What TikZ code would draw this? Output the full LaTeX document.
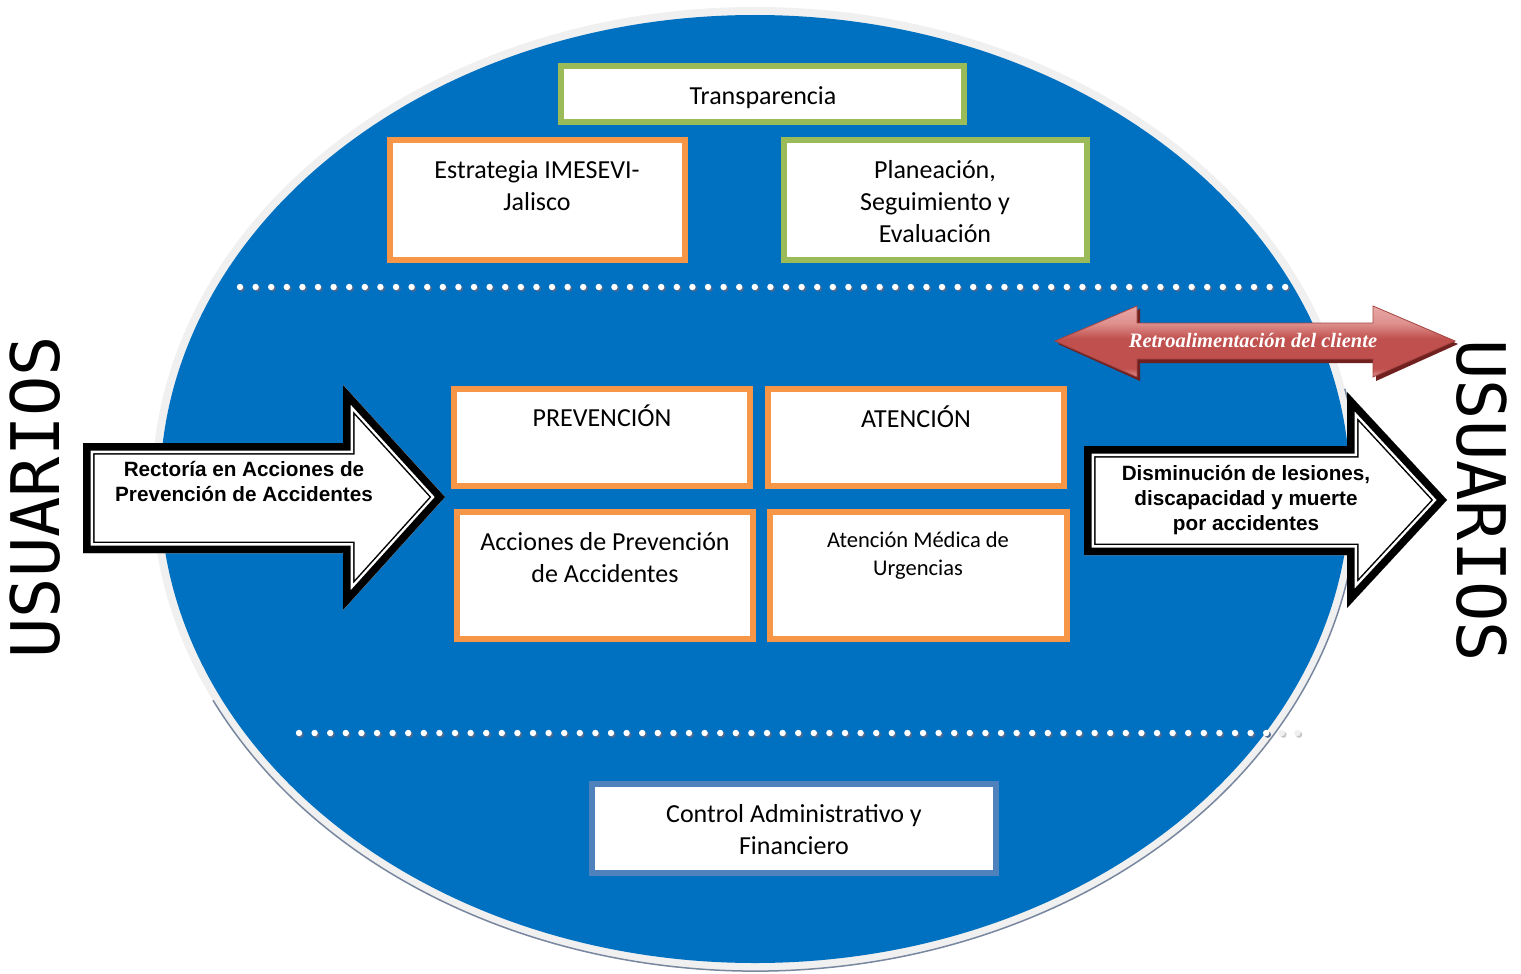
\documentclass[tikz,border=0pt]{standalone}
\usepackage{fontspec}
\setmainfont{Carlito}
\newfontfamily\arialb{Liberation Sans}
\newfontfamily\timesf{Liberation Serif}
\newfontfamily\monof{DejaVu Sans Mono}
\definecolor{ellblue}{RGB}{0,112,192}
\definecolor{ringgray}{RGB}{240,240,240}
\definecolor{edgeslate}{RGB}{120,135,160}
\definecolor{boxorange}{RGB}{247,150,70}
\definecolor{boxgreen}{RGB}{155,187,89}
\definecolor{boxblue}{RGB}{79,129,189}
\definecolor{arrred}{RGB}{192,80,77}
\definecolor{arrpink}{RGB}{222,145,143}
\definecolor{arrlight}{RGB}{232,168,166}
\definecolor{arrdark}{RGB}{112,32,30}
\definecolor{dotshadow}{RGB}{80,105,140}
\pgfdeclareverticalshading{redarrowshade}{100bp}{color(0bp)=(arrpink); color(25bp)=(arrpink); color(31bp)=(arrred); color(52bp)=(arrred); color(63bp)=(arrpink); color(75bp)=(arrlight); color(100bp)=(arrlight)}
\tikzset{
  boxo/.style={rectangle,draw=boxorange,line width=6pt,fill=white,inner sep=0pt},
  boxg/.style={rectangle,draw=boxgreen,line width=6pt,fill=white,inner sep=0pt},
  boxb/.style={rectangle,draw=boxblue,line width=6pt,fill=white,inner sep=0pt},
  btext/.style={inner sep=0pt,align=center,font=\fontsize{26}{32}\selectfont},
  stext/.style={inner sep=0pt,align=center,font=\fontsize{22.5}{28}\selectfont},
  atext/.style={inner sep=0pt,align=center,font=\arialb\bfseries\fontsize{20.7}{25}\selectfont},
  utext/.style={inner sep=0pt,font=\monof\fontsize{67}{72}\selectfont},
}
\begin{document}
\begin{tikzpicture}[x=1pt,y=-1pt]
\useasboundingbox[fill=white] (0,0) rectangle (1521,974);
% ellipse
\fill[ringgray] (755,489) ellipse [x radius=603pt, y radius=482pt];
\draw[edgeslate,line width=1.5pt] (755,489) ++(206:603pt and 482pt) arc[start angle=206,end angle=372,x radius=603pt,y radius=482pt];
\fill[ellblue] (755,489) ellipse [x radius=595pt, y radius=474pt];
% dotted rows
\foreach \i in {0,...,67}{
  \fill[dotshadow] ({240+15.6*\i+1.6},288.6) circle (3.2pt);
  \fill[white] ({240+15.6*\i},287) circle (3.2pt);
}
\foreach \i in {0,...,62}{
  \fill[dotshadow] ({299+15.6*\i+1.6},734.6) circle (3.2pt);
  \fill[white] ({299+15.6*\i},733) circle (3.2pt);
}
\foreach \i in {63,64}{
  \fill[gray!45] ({299+15.6*\i+1.6},734.6) circle (3.2pt);
  \fill[gray!12] ({299+15.6*\i},733) circle (3.2pt);
}
% boxes
\node[boxg,minimum width=403pt,minimum height=56pt] (transp) at (762.5,94) {};
\node[boxo,minimum width=295pt,minimum height=120pt] (estr) at (537.5,200) {};
\node[boxg,minimum width=303pt,minimum height=120pt] (plan) at (935.5,200) {};
\node[boxo,minimum width=296pt,minimum height=97pt] (prev) at (602,437.5) {};
\node[boxo,minimum width=296pt,minimum height=97pt] (aten) at (916,437.5) {};
\node[boxo,minimum width=296pt,minimum height=127pt] (acc) at (605,575.5) {};
\node[boxo,minimum width=297pt,minimum height=127pt] (amed) at (918.5,575.5) {};
\node[boxb,minimum width=404pt,minimum height=89pt] (ctrl) at (794,828.5) {};
\node[btext] (transpT) at (763,98) {Transparencia};
\node[btext] (estrT) at (537,186) {Estrategia IMESEVI-\\Jalisco};
\node[btext] (planT) at (935,202) {Planeación,\\Seguimiento y\\Evaluación};
\node[btext] (prevT) at (602,416) {PREVENCIÓN};
\node[btext] (atenT) at (916,417) {ATENCIÓN};
\node[btext] (accT) at (605,558) {Acciones de Prevención\\de Accidentes};
\node[stext] (amedT) at (918,556) {Atención Médica de\\Urgencias};
\node[btext] (ctrlT) at (794,830) {Control Administrativo y\\Financiero};
% left arrow
\fill[white] (83,443) -- (343,443) -- (343,385) -- (445,497) -- (343,610) -- (343,553) -- (83,553) -- cycle;
\begin{scope}
\clip (83,443) -- (343,443) -- (343,385) -- (445,497) -- (343,610) -- (343,553) -- (83,553) -- cycle;
\foreach \w/\c in {23/black,20/white,15/black}
  \draw[line width=\w pt,\c,line join=miter] (83,443) -- (343,443) -- (343,385) -- (445,497) -- (343,610) -- (343,553) -- (83,553) -- cycle;
\end{scope}
\node[atext] (rect) at (244,482) {Rectoría en Acciones de\\Prevención de Accidentes};
% right arrow
\fill[white] (1084,446) -- (1347,446) -- (1347,392) -- (1447,500) -- (1347,608) -- (1347,555) -- (1084,555) -- cycle;
\begin{scope}
\clip (1084,446) -- (1347,446) -- (1347,392) -- (1447,500) -- (1347,608) -- (1347,555) -- (1084,555) -- cycle;
\foreach \w/\c in {23/black,20/white,15/black}
  \draw[line width=\w pt,\c,line join=miter] (1084,446) -- (1347,446) -- (1347,392) -- (1447,500) -- (1347,608) -- (1347,555) -- (1084,555) -- cycle;
\end{scope}
\node[atext] (dism) at (1246,500) {Disminución de lesiones,\\discapacidad y muerte\\por accidentes};
% red double arrow
\fill[arrdark] (1058,344) -- (1140,309) -- (1140,326) -- (1376,326) -- (1376,309) -- (1458,344) -- (1376,381) -- (1376,363) -- (1140,363) -- (1140,381) -- cycle;
\shade[shading=redarrowshade,draw=arrred!85!black,line width=0.8pt]
  (1055,341) -- (1137,306) -- (1137,323) -- (1373,323) -- (1373,306) -- (1455,341) -- (1373,377) -- (1373,359) -- (1137,359) -- (1137,377) -- cycle;
\node[inner sep=0pt,text=white,font=\timesf\bfseries\itshape\fontsize{20.5}{24}\selectfont] (retro) at (1253,340) {Retroalimentación del cliente};
% USUARIOS
\node[utext,rotate=90] (usL) at (35,497) {USUARIOS};
\node[utext,rotate=-90] (usR) at (1482,501) {USUARIOS};
\end{tikzpicture}
\end{document}
